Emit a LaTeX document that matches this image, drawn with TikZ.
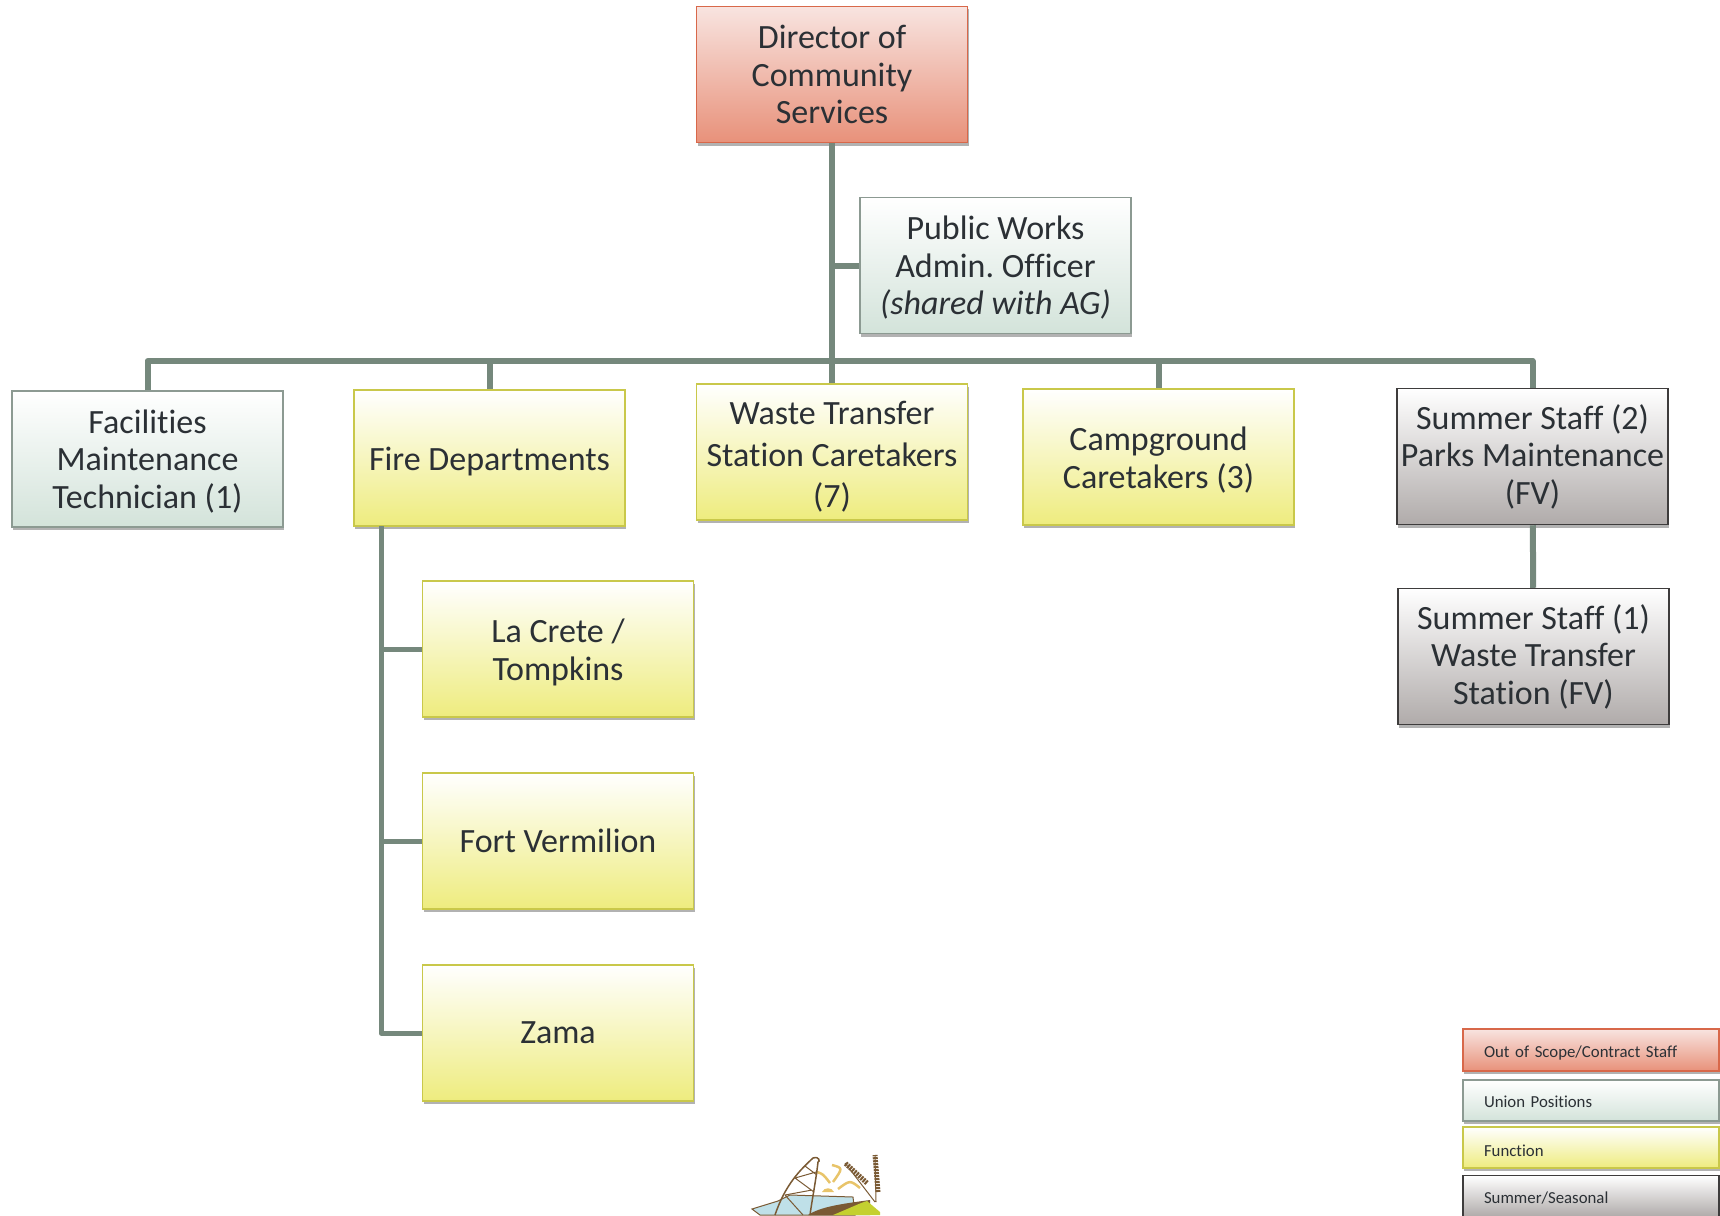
\documentclass[tikz,border=0pt]{standalone}
\usepackage{fontspec}
\setmainfont[Ligatures=NoCommon]{Carlito}
\usetikzlibrary{shadows}
\definecolor{linkcol}{HTML}{75887C}
\definecolor{inkcol}{HTML}{2B3035}
\definecolor{scopeline}{HTML}{D8684A}
\definecolor{scopetop}{HTML}{F8E4E0}
\definecolor{scopemid}{HTML}{F4C8BC}
\definecolor{scopelow}{HTML}{E8917A}
\definecolor{unionline}{HTML}{8C9A92}
\definecolor{unionmid}{HTML}{FAFBF9}
\definecolor{unionlow}{HTML}{D3E3DA}
\definecolor{funcline}{HTML}{C9C84A}
\definecolor{funcmid}{HTML}{FDFDD2}
\definecolor{funclow}{HTML}{EEEC7E}
\definecolor{summerline}{HTML}{3E3C3C}
\definecolor{summermid}{HTML}{E2E0DF}
\definecolor{summerlow}{HTML}{B0ABAA}
\definecolor{skycol}{HTML}{BFE0E8}
\definecolor{landcol}{HTML}{7A5A34}
\definecolor{sunkcol}{HTML}{E8C46A}
\definecolor{fieldcol}{HTML}{C4D030}
\newcommand{\strutto}[1]{\rule{0pt}{#1pt}}

\begin{document}
\begin{tikzpicture}[x=1pt, y=-1pt,
        box/.style = {align=center, text=inkcol, inner sep=0pt, line width=1.5pt,
                font=\fontsize{34}{37.5}\selectfont\frenchspacing, minimum width=271pt, minimum height=136pt,
                drop shadow={shadow xshift=1pt, shadow yshift=-3pt, opacity=.3, fill=black}},
        scopebox/.style = {box, draw=scopeline, top color=scopetop, middle color=scopemid, bottom color=scopelow},
        unionbox/.style = {box, draw=unionline, top color=white, middle color=unionmid, bottom color=unionlow},
        funcbox/.style = {box, draw=funcline, top color=white, middle color=funcmid, bottom color=funclow},
        summerbox/.style = {box, draw=summerline, top color=white, middle color=summermid, bottom color=summerlow},
        keytext/.style = {minimum width=256pt, text width=214pt, align=left, font=\fontsize{16.8}{20}\selectfont\frenchspacing},
        link/.style = {draw=linkcol, line width=6pt, line join=round},
        thinlink/.style = {draw=linkcol, line width=5pt, line join=round}]
        \useasboundingbox (0, 0) rectangle (1720, 1215);

        \coordinate (busl) at (147.5, 361);
        \coordinate (busr) at (1532.5, 361);
        \coordinate (firedrop) at (381, 526);

        \node[scopebox] at (832, 74.5) (director) {Director of\\Community\\Services};
        \node[unionbox] at (995.5, 265.5) (admin) {\strutto{28}Public Works\\Admin. Officer\\\textit{(shared with AG)}};
        \node[unionbox] at (147.5, 459) (facilities) {\strutto{28}Facilities\\Maintenance\\Technician (1)};
        \node[funcbox] at (489.5, 458) (fire) {\strutto{30}Fire Departments};
        \node[funcbox] at (832, 452) (waste) {\strutto{33}Waste Transfer\\[4pt]Station Caretakers\\[4pt](7)};
        \node[funcbox] at (1158.5, 457) (camp) {\strutto{30}Campground\\Caretakers (3)};
        \node[summerbox] at (1532.5, 456.5) (summerparks) {Summer Staff (2)\\Parks Maintenance\\(FV)};
        \node[summerbox] at (1533.5, 656.5) (summerwaste) {Summer Staff (1)\\Waste Transfer\\Station (FV)};
        \node[funcbox] at (558, 649) (lacrete) {\strutto{30}La Crete /\\Tompkins};
        \node[funcbox] at (558, 841) (fortv) {Fort Vermilion};
        \node[funcbox] at (558, 1033) (zama) {Zama};

        \draw [link] (director) -- (waste);
        \draw [link] (admin) -- (admin -| director);
        \draw [link] (facilities.north) |- (busl) -- (busr) -- (summerparks.north);
        \draw [link] (fire.north) -- (fire.north |- busl);
        \draw [link] (camp.north) -- (camp.north |- busl);
        \draw [link] (summerparks) -- (summerwaste);
        \draw [thinlink] (firedrop) |- (zama.west);
        \draw [thinlink] (firedrop |- lacrete.west) -- (lacrete.west);
        \draw [thinlink] (firedrop |- fortv.west) -- (fortv.west);

        % legend
        \node[scopebox, keytext, minimum height=42pt] at (1591, 1050) (keyscope) {\strutto{18}Out of Scope/Contract Staff};
        \node[unionbox, keytext, minimum height=41pt] at (1591, 1100.5) (keyunion) {\strutto{15}Union Positions};
        \node[funcbox, keytext, minimum height=41pt] at (1591, 1147.5) (keyfunc) {\strutto{18}Function};
        \node[summerbox, keytext, minimum height=41pt] at (1591, 1196) (keysummer) {\strutto{16}Summer/Seasonal};

        % logo, cut by the page edge
        \begin{scope}
                \clip (0, 0) rectangle (1720, 1215);
                \fill[skycol, draw=landcol, line width=1pt] (752, 1209) -- (778, 1201) -- (790, 1195) -- (853, 1197) -- (855, 1215) -- (760, 1215) -- cycle;
                \fill[landcol] (808, 1215) .. controls (820, 1207) and (840, 1204) .. (870, 1200) -- (870, 1215) -- cycle;
                \fill[fieldcol] (833, 1215) .. controls (850, 1208) and (860, 1203) .. (867, 1201) -- (880, 1212) -- (880, 1215) -- cycle;
                \fill[sunkcol] (822, 1192) .. controls (824, 1187) and (832, 1187) .. (834, 1192) -- cycle;
                \draw[sunkcol, line width=2.5pt] (817, 1172) .. controls (823, 1174) .. (830, 1183);
                \draw[sunkcol, line width=2.5pt] (832, 1165) .. controls (843, 1168) .. (833, 1182);
                \draw[sunkcol, line width=2.5pt] (838, 1189) .. controls (850, 1180) .. (860, 1188);
                \draw[landcol, line width=1.5pt] (775, 1215) .. controls (785, 1185) and (800, 1170) .. (813, 1158) .. controls (820, 1156) and (820, 1162) .. (818, 1162) .. controls (816, 1180) and (812, 1200) .. (810, 1215);
                \draw[landcol, line width=1pt] (785, 1195) -- (812, 1190) (795, 1178) -- (816, 1172) (785, 1195) -- (803, 1215) (795, 1178) -- (814, 1192) (805, 1166) -- (817, 1175);
                \draw[landcol, line width=1pt] (875, 1202) -- (845, 1163) (876, 1202) -- (875, 1155);
                \draw[landcol, line width=5pt, dash pattern=on 2pt off 1pt] (867, 1183) -- (845, 1163) (878, 1192) -- (875, 1155);
        \end{scope}
\end{tikzpicture}
\end{document}
